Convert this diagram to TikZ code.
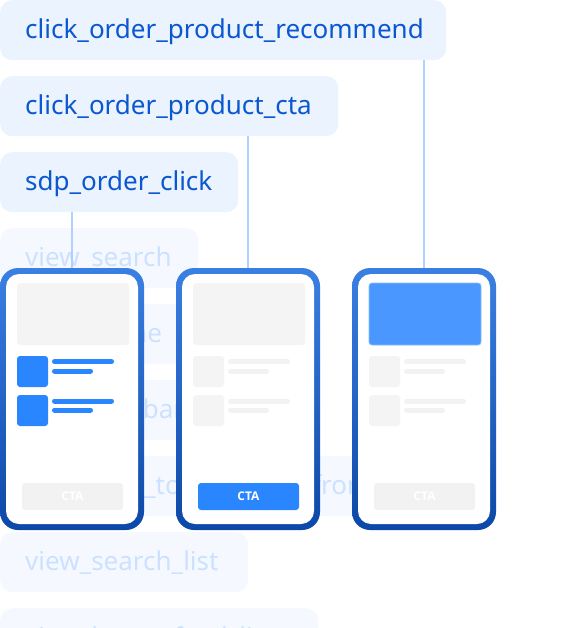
\documentclass[tikz,border=0pt]{standalone}
\usepackage{fontspec}
\setmainfont{Noto Sans}
\newfontfamily\ctafont{Open Sans}
\definecolor{lblfill}{HTML}{EBF3FE}
\definecolor{lbltext}{HTML}{0B57D0}
\definecolor{ghostfill}{HTML}{F5F9FF}
\definecolor{ghosttext}{HTML}{CCE1FF}
\definecolor{conncol}{HTML}{B0D0FF}
\definecolor{phonetop}{HTML}{3A80E2}
\definecolor{phonebot}{HTML}{0D48A8}
\definecolor{ggray}{HTML}{F4F4F4}
\definecolor{lgray}{HTML}{F2F2F2}
\definecolor{sqblue}{HTML}{2986FF}
\definecolor{imgblue}{HTML}{4A98FF}
\definecolor{imgedge}{HTML}{86BBFF}
\definecolor{ctagray}{HTML}{F2F2F2}
\tikzset{
  lbl/.style={anchor=north west, fill=lblfill, text=lbltext, rounded corners=12pt,
    inner xsep=25pt, inner ysep=0pt, minimum height=60pt, text height=22pt,
    text depth=5.4pt, font=\fontsize{26}{30}\selectfont, align=left},
  ghost/.style={lbl, fill=ghostfill, text=ghosttext},
  phone/.style={minimum width=144pt, minimum height=262pt, rounded corners=18pt,
    top color=phonetop, bottom color=phonebot, inner sep=0pt, draw=none},
  ctabtn/.style={rounded corners=3pt, text=white, inner sep=0pt,
    font=\ctafont\bfseries\fontsize{12}{14}\selectfont, minimum width=101pt, minimum height=27pt},
  conn/.style={draw=conncol, line width=1.5pt}
}
\begin{document}
\begin{tikzpicture}[x=1pt,y=-1pt]
\useasboundingbox (0,0) rectangle (568,628);
% faded labels behind the phones
\node[ghost, text width=148pt] (g1) at (0,228) {view\_search};
\node[ghost, text width=150pt] (g2) at (0,304) {view\_home};
\node[ghost, text width=170pt] (g3) at (0,380) {view\_tab\_bar};
\node[ghost, text width=350pt] (g4) at (0,456) {click\_item\_to\_products\_front};
\node[ghost, text width=198pt] (g5) at (0,532) {view\_search\_list};
\node[ghost, text width=268pt] (g6) at (0,608) {view\_home\_feed\_list};
% active labels
\node[lbl, text width=396pt] (l1) at (0,0) {click\_order\_product\_recommend};
\node[lbl, text width=288pt] (l2) at (0,76) {click\_order\_product\_cta};
\node[lbl, text width=188pt] (l3) at (0,152) {sdp\_order\_click};
% phones
\foreach \n/\px/\img/\sq/\ln/\cta in {1/0/ggray/sqblue/sqblue/ctagray,
    2/176/ggray/ggray/lgray/sqblue, 3/352/imgblue/ggray/lgray/ctagray}{
  \node[phone] (p\n) at (\px+72,399) {};
  \begin{scope}[shift={(\px,268)}]
    \fill[white, rounded corners=13pt] (6,6) rectangle (138,256);
    \fill[\img, rounded corners=3pt] (17,15) rectangle (129,77);
    \fill[\sq, rounded corners=3pt] (17,88) rectangle (48,119);
    \fill[\sq, rounded corners=3pt] (17,127) rectangle (48,158);
    \draw[\ln, line width=5pt, line cap=round]
      (54.5,93.7) -- (111.5,93.7) (54.5,103) -- (90.5,103)
      (54.5,133) -- (111.5,133) (54.5,142) -- (90.5,142);
    \node[ctabtn, fill=\cta] (cta\n) at (72.5,228.5) {CTA};
  \end{scope}
}
\draw[imgedge, line width=0.8pt, rounded corners=3pt] (369,283) rectangle (481,345);
% connectors
\draw[conn] (p1.north |- l3.south) -- (p1.north);
\draw[conn] (p2.north |- l2.south) -- (p2.north);
\draw[conn] (p3.north |- l1.south) -- (p3.north);
\end{tikzpicture}
\end{document}
